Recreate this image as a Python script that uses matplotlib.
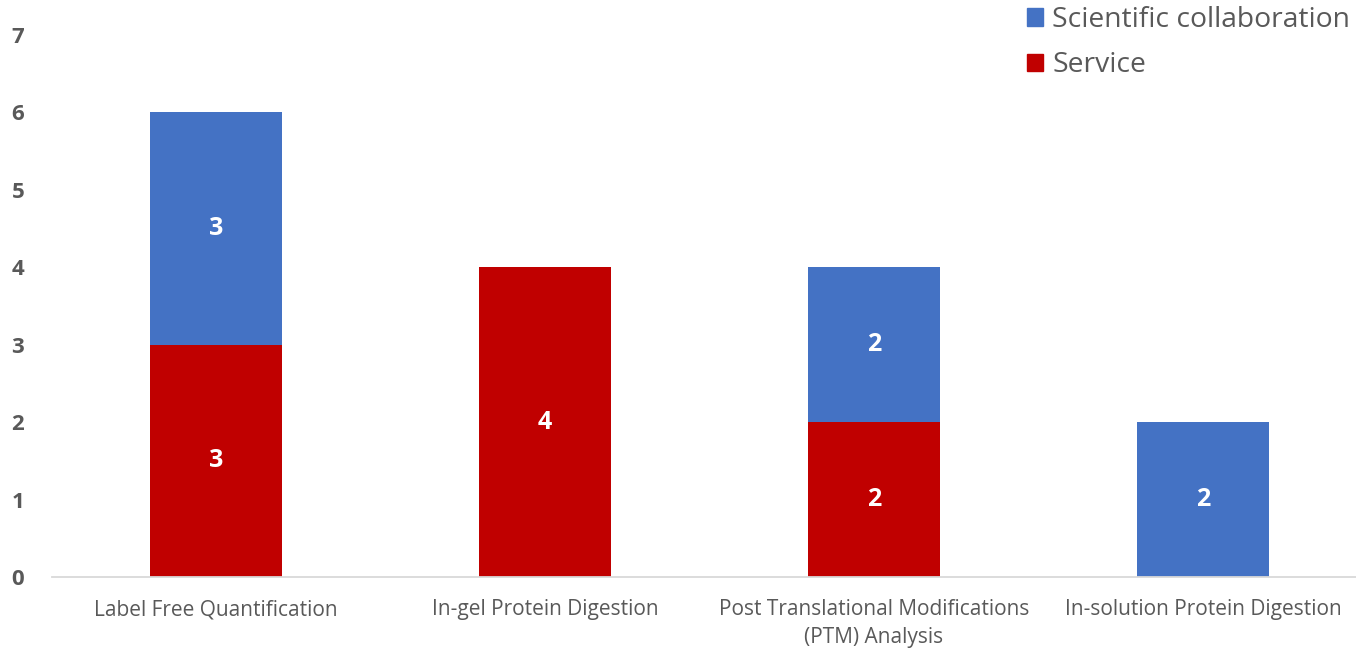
import matplotlib
matplotlib.use("Agg")
import matplotlib.pyplot as plt
from matplotlib.patches import Patch

categories = ["Label Free Quantification", "In-gel Protein Digestion",
              "Post Translational Modifications\n(PTM) Analysis", "In-solution Protein Digestion"]
service = [3, 4, 2, 0]
collaboration = [3, 0, 2, 2]
yticks = [0, 1, 2, 3, 4, 5, 6, 7]

RED = "#C00000"
BLUE = "#4472C4"
GRAY = "#595959"
plt.rcParams['font.family'] = ['Open Sans', 'DejaVu Sans']

W, H = 1356, 650
fig = plt.figure(figsize=(W / 100, H / 100), dpi=100)
ax = fig.add_axes([52 / W, (H - 577) / H, (W - 52) / W, (577 - 35) / H])

x = list(range(len(categories)))
bw = 0.4
ax.bar(x, service, bw, color=RED, label="Service", zorder=2)
ax.bar(x, collaboration, bw, bottom=service, color=BLUE,
       label="Scientific collaboration", zorder=2)

for i in x:
    if service[i] > 0:
        ax.text(i, service[i] / 2, str(service[i]), ha='center', va='center',
                color='white', fontsize=18, fontweight='bold')
    if collaboration[i] > 0:
        ax.text(i, service[i] + collaboration[i] / 2, str(collaboration[i]),
                ha='center', va='center', color='white', fontsize=18, fontweight='bold')

ax.set_xlim(-(216 - 52) / 329, 3 + (1356 - 1203) / 329)
ax.set_ylim(0, 7)
ax.set_yticks(yticks)
ax.set_yticklabels([str(t) for t in yticks], fontsize=16, fontweight='bold', color=GRAY)
ax.set_xticks(x)
ax.set_xticklabels(categories, fontsize=15, color=GRAY, linespacing=1.45)
ax.tick_params(axis='both', length=0)
ax.tick_params(axis='y', pad=20)
ax.tick_params(axis='x', pad=16)
for s in ['top', 'right', 'left']:
    ax.spines[s].set_visible(False)
ax.spines['bottom'].set_color('#D9D9D9')
ax.spines['bottom'].set_linewidth(1.3)
ax.set_facecolor('none')

handles = [Patch(color=BLUE, label="Scientific collaboration"), Patch(color=RED, label="Service")]
leg = fig.legend(handles=handles, loc='upper right', bbox_to_anchor=(1350 / W, 1.0 - 6 / H),
                 fontsize=20.3, frameon=False, handlelength=0.57, handleheight=0.57,
                 handletextpad=0.32, labelspacing=0.62, borderaxespad=0.0, borderpad=0.0)
for t in leg.get_texts():
    t.set_color(GRAY)

fig.savefig("out.png", dpi=100)
